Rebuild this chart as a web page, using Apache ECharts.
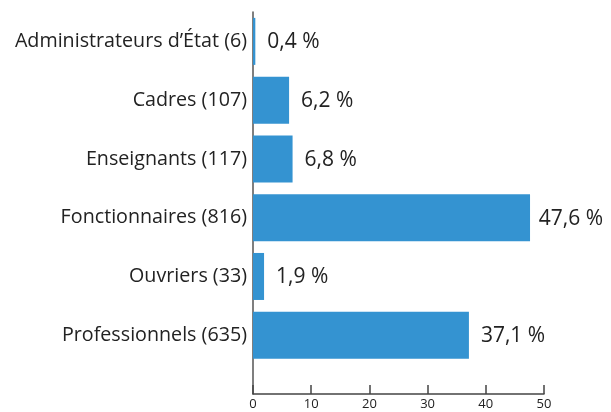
<!DOCTYPE html>
<html>
<head>
<meta charset="utf-8">
<script src="https://cdn.jsdelivr.net/npm/echarts@6/dist/echarts.min.js"></script>
<style>
  html, body { margin: 0; padding: 0; background: #fff; }
  #chart { width: 611px; height: 412px; }
</style>
</head>
<body>
<div id="chart"></div>
<script>
const categories = [
  "Administrateurs d\u2019\u00c9tat (6)",
  "Cadres (107)",
  "Enseignants (117)",
  "Fonctionnaires (816)",
  "Ouvriers (33)",
  "Professionnels (635)"
];
const shares = [0.4, 6.2, 6.8, 47.6, 1.9, 37.1];
const xTicks = [0, 10, 20, 30, 40, 50];

const font = "'Open Sans', 'Noto Sans', sans-serif";
const chartEl = document.getElementById("chart");
const chart = echarts.init(chartEl, null, { renderer: "canvas" });

function fmt(v) {
  return v.toFixed(1).replace(".", ",") + " %";
}

// y is a value axis so the grid keeps half a band of empty space above the x axis,
// bars are drawn by a custom series through the axis scales
function renderBar(params, api) {
  const v = api.value(0);
  const i = api.value(1);
  const start = api.coord([0, i]);
  const end = api.coord([v, i]);
  const h = 47;
  // keep the label inside the page when the bar is long
  const rightEdge = chartEl.clientWidth - 8;
  let x = end[0] + 12;
  let align = "left";
  if (x + 68 > rightEdge) {
    x = rightEdge;
    align = "right";
  }
  return {
    type: "group",
    children: [
      {
        type: "rect",
        shape: { x: start[0], y: start[1] - h / 2, width: end[0] - start[0], height: h },
        style: { fill: "#3493d1" }
      },
      {
        type: "text",
        x: x,
        y: end[1] + 1,
        style: {
          text: fmt(v),
          fill: "#222",
          font: "21px " + font,
          verticalAlign: "middle",
          align: align
        }
      }
    ]
  };
}

chart.setOption({
  animation: false,
  grid: { left: 253, right: 67, top: 12, bottom: 18, containLabel: false },
  xAxis: {
    type: "value",
    min: 0,
    max: 50,
    interval: 10,
    splitLine: { show: false },
    axisLine: { show: true, onZero: false, lineStyle: { color: "#444", width: 1.5 } },
    axisTick: { show: true, inside: true, length: 9, lineStyle: { color: "#444", width: 1.5 } },
    axisLabel: {
      color: "#222", fontFamily: font, fontSize: 13, margin: 4,
      customValues: xTicks
    }
  },
  yAxis: {
    type: "value",
    inverse: true,
    min: -0.5,
    max: 6,
    splitLine: { show: false },
    axisLine: { show: true, onZero: false, lineStyle: { color: "#555", width: 1.5 } },
    axisTick: { show: false },
    axisLabel: {
      color: "#222", fontFamily: font, fontSize: 19.7, margin: 6,
      customValues: categories.map((c, i) => i),
      formatter: (v) => categories[v] || ""
    }
  },
  series: [{
    type: "custom",
    renderItem: renderBar,
    encode: { x: 0, y: 1 },
    data: shares.map((v, i) => [v, i])
  }]
});
</script>
</body>
</html>
